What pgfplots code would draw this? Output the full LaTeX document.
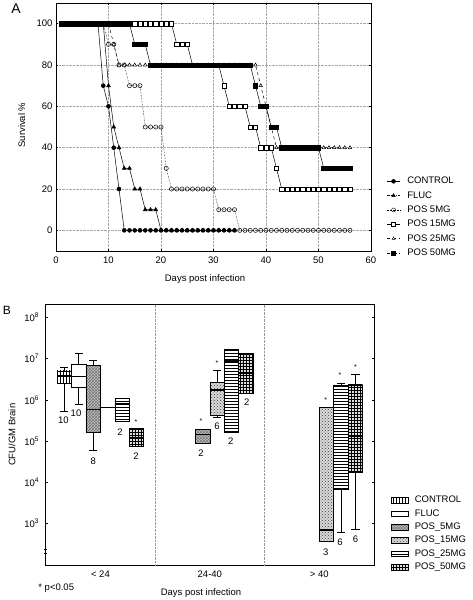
\documentclass[border=0pt]{standalone}
\usepackage{fontspec}
\setmainfont{Liberation Sans}
\usepackage{pgfplots}
\pgfplotsset{compat=1.18}
\usepgfplotslibrary{statistics}
\usetikzlibrary{patterns}

\tikzset{
  pCTRL/.style={fill=white, postaction={pattern=vertical lines}},
  pFLUC/.style={fill=white},
  pP5/.style={fill=gray!45, postaction={pattern=crosshatch, pattern color=black!55}},
  pP15/.style={fill=gray!30, postaction={pattern=crosshatch dots, pattern color=black!75}},
  pP25/.style={fill=white, postaction={pattern=horizontal lines}},
  pP50/.style={fill=gray!25, postaction={pattern=grid}},
}

\begin{document}
\begin{tikzpicture}[font=\fontsize{9.5}{11}\selectfont]
\path[use as bounding box] (0,0) rectangle (473pt,-600pt);
\node[font=\fontsize{14}{16}\selectfont] at (16pt,-8.5pt) {A};
\node[font=\fontsize{12}{14}\selectfont] at (7pt,-310pt) {B};

% ---------------- Panel A ----------------
\begin{axis}[
  at={(56pt,-251pt)}, anchor=south west,
  scale only axis, width=315pt, height=248pt,
  xmin=0, xmax=60, ymin=-10, ymax=110,
  xtick={0,10,...,60}, ytick={0,20,...,100},
  grid=major, grid style={densely dotted, gray!70, line width=0.4pt},
  axis line style={line width=0.8pt},
  tick style={black, line width=0.4pt}, major tick length=2pt,
  /pgf/number format/assume math mode=true,
  tick label style={font=\fontsize{9.5}{11}\selectfont},
  xticklabel style={yshift=-2pt},
  xlabel={Days post infection}, ylabel={Survival \%},
  xlabel style={at={(axis description cs:0.473,-0.112)}, anchor=center},
  ylabel style={at={(axis description cs:-0.109,0.508)}, anchor=center},
  legend style={at={(1.04,0.31)}, anchor=north west, draw=none, fill=none,
    font=\fontsize{9.5}{11}\selectfont, row sep=4.3pt,
    nodes={inner sep=1pt, text height=6.5pt, text depth=1.5pt},
    /tikz/every odd column/.append style={column sep=6pt}},
  legend cell align=left,
  legend image code/.code={\draw[mark repeat=2,mark phase=2] plot coordinates {(0cm,0cm) (0.23cm,0cm) (0.46cm,0cm)};},
]
% POS 5MG
\addplot[forget plot, black, densely dotted, line width=0.5pt, mark=o, mark size=2.1pt, mark options={solid, fill=white}] coordinates {
(1,100)(2,100)(3,100)(4,100)(5,100)(6,100)(7,100)(8,100)(9,100)(10,90)(11,90)(12,80)(13,80)(14,70)(15,70)(16,70)(17,50)(18,50)(19,50)(20,50)(21,30)
(22,20)(23,20)(24,20)(25,20)(26,20)(27,20)(28,20)(29,20)(30,20)(31,10)(32,10)(33,10)(34,10)
(35,0)(36,0)(37,0)(38,0)(39,0)(40,0)(41,0)(42,0)(43,0)(44,0)(45,0)(46,0)(47,0)(48,0)(49,0)(50,0)(51,0)(52,0)(53,0)(54,0)(55,0)(56,0)};
% POS 15MG
\addplot[forget plot, black, solid, line width=0.5pt, mark=square*, mark size=2.2pt, mark options={solid, fill=white}] coordinates {
(1,100)(2,100)(3,100)(4,100)(5,100)(6,100)(7,100)(8,100)(9,100)(10,100)(11,100)(12,100)(13,100)(14,100)(15,100)(16,100)(17,100)(18,100)(19,100)(20,100)(21,100)(22,100)
(23,90)(24,90)(25,90)(26,80)(27,80)(28,80)(29,80)(30,80)(31,80)(32,70)(33,60)(34,60)(35,60)(36,60)(37,50)(38,50)(39,40)(40,40)(41,40)(42,30)
(43,20)(44,20)(45,20)(46,20)(47,20)(48,20)(49,20)(50,20)(51,20)(52,20)(53,20)(54,20)(55,20)(56,20)};
% POS 25MG
\addplot[forget plot, black, dashed, line width=0.5pt, mark=triangle*, mark size=2pt, mark options={solid, fill=white}] coordinates {
(1,100)(2,100)(3,100)(4,100)(5,100)(6,100)(7,100)(8,100)(9,100)(10,100)(11,90)
(12,80)(13,80)(14,80)(15,80)(16,80)(17,80)(18,80)(19,80)(20,80)(21,80)(22,80)(23,80)(24,80)(25,80)(26,80)(27,80)(28,80)(29,80)(30,80)(31,80)(32,80)(33,80)(34,80)(35,80)(36,80)(37,80)(38,80)
(39,70)(40,60)(41,50)(42,40)(43,40)(44,40)(45,40)(46,40)(47,40)(48,40)(49,40)(50,40)(51,40)(52,40)(53,40)(54,40)(55,40)(56,40)};
% FLUC
\addplot[forget plot, black, solid, line width=0.5pt, mark=triangle*, mark size=2.2pt, mark options={solid}] coordinates {
(1,100)(2,100)(3,100)(4,100)(5,100)(6,100)(7,100)(8,100)(9,100)(10,70)(11,50)(12,40)(13,30)(14,30)(15,20)(16,20)(17,10)(18,10)(19,10)
(20,0)(21,0)(22,0)(23,0)(24,0)(25,0)(26,0)(27,0)(28,0)(29,0)(30,0)(31,0)(32,0)(33,0)(34,0)};
% CONTROL
\addplot[forget plot, black, solid, line width=0.5pt, mark=*, mark size=2pt] coordinates {
(1,100)(2,100)(3,100)(4,100)(5,100)(6,100)(7,100)(8,100)(9,70)(10,60)(11,40)(12,20)
(13,0)(14,0)(15,0)(16,0)(17,0)(18,0)(19,0)(20,0)(21,0)(22,0)(23,0)(24,0)(25,0)(26,0)(27,0)(28,0)(29,0)(30,0)(31,0)(32,0)(33,0)(34,0)};
% POS 50MG
\addplot[forget plot, black, solid, line width=0.5pt, mark=square*, mark size=2.2pt, mark options={solid}] coordinates {
(1,100)(2,100)(3,100)(4,100)(5,100)(6,100)(7,100)(8,100)(9,100)(10,100)(11,100)(12,100)(13,100)(14,100)(15,90)(16,90)(17,90)
(18,80)(19,80)(20,80)(21,80)(22,80)(23,80)(24,80)(25,80)(26,80)(27,80)(28,80)(29,80)(30,80)(31,80)(32,80)(33,80)(34,80)(35,80)(36,80)(37,80)
(38,70)(39,60)(40,60)(41,50)(42,50)(43,40)(44,40)(45,40)(46,40)(47,40)(48,40)(49,40)(50,40)(51,30)(52,30)(53,30)(54,30)(55,30)(56,30)};

\addlegendimage{black, solid, mark=*, mark size=2pt}
\addlegendentry{CONTROL}
\addlegendimage{black, densely dashdotted, mark=triangle*, mark size=2pt, mark options={solid}}
\addlegendentry{FLUC}
\addlegendimage{black, densely dotted, mark=o, mark size=2pt, mark options={solid, fill=white}}
\addlegendentry{POS 5MG}
\addlegendimage{black, solid, mark=square*, mark size=2pt, mark options={solid, fill=white}}
\addlegendentry{POS 15MG}
\addlegendimage{black, dashed, mark=triangle*, mark size=1.7pt, mark options={solid, fill=white}}
\addlegendentry{POS 25MG}
\addlegendimage{black, dashdotted, mark=square*, mark size=2pt, mark options={solid}}
\addlegendentry{POS 50MG}
\end{axis}

% ---------------- Panel B ----------------
\begin{axis}[
  at={(45.7pt,-565.3pt)}, anchor=south west,
  scale only axis, width=328.3pt, height=261pt,
  xmin=0, xmax=3, ymin=1.98, ymax=8.32,
  xtick={0.5,1.5,2.5}, xticklabels={< 24, 24-40, > 40},
  xtick style={draw=none},
  extra x ticks={1,2}, extra x tick labels={},
  extra x tick style={grid=major, major tick length=0pt},
  grid style={densely dotted, gray!80, line width=0.5pt},
  ytick={3,4,5,6,7,8},
  yticklabels={10\textsuperscript{3},10\textsuperscript{4},10\textsuperscript{5},10\textsuperscript{6},10\textsuperscript{7},10\textsuperscript{8}},
  yticklabel style={xshift=-3pt},
  xticklabel style={yshift=-2pt},
  axis line style={line width=0.8pt},
  tick style={black, line width=0.4pt}, major tick length=2pt,
  tick label style={font=\fontsize{9.5}{11}\selectfont},
  ylabel={CFU/GM Brain},
  ylabel style={at={(axis description cs:-0.103,0.5)}, anchor=center},
  clip=false,
  boxplot/draw direction=y,
  boxplot/box extend=0.132,
  boxplot/whisker extend=0.075,
  boxplot/every median/.style={line width=1.3pt},
  legend style={at={(1.043,0.276)}, anchor=north west, draw=none, fill=none,
    font=\fontsize{9.5}{11}\selectfont, row sep=3.3pt,
    nodes={inner sep=1pt, text height=6.5pt, text depth=1.5pt},
    /tikz/every odd column/.append style={column sep=5pt}},
  legend cell align=left,
]
% group < 24
\addplot[forget plot, black, line width=0.6pt, boxplot prepared={draw position=0.17, lower whisker=5.73, lower quartile=6.40, median=6.58, upper quartile=6.70, upper whisker=6.79}, boxplot/every box/.style={pCTRL}] coordinates {};
\addplot[forget plot, black, line width=0.6pt, boxplot prepared={draw position=0.302, lower whisker=5.89, lower quartile=6.30, median=6.56, upper quartile=6.86, upper whisker=7.14}, boxplot/every box/.style={pFLUC}] coordinates {};
\addplot[forget plot, black, line width=0.6pt, boxplot prepared={draw position=0.434, lower whisker=4.78, lower quartile=5.21, median=5.76, upper quartile=6.84, upper whisker=6.96}, boxplot/every box/.style={pP5}] coordinates {};
\addplot[forget plot, black, line width=0.6pt, boxplot prepared={draw position=0.566, lower whisker=5.82, lower quartile=5.82, median=5.82, upper quartile=5.82, upper whisker=5.82}, boxplot/every box/.style={pP15}] coordinates {};
\addplot[forget plot, black, line width=0.6pt, boxplot prepared={draw position=0.698, lower whisker=5.47, lower quartile=5.47, median=5.91, upper quartile=6.03, upper whisker=6.03}, boxplot/every box/.style={pP25}] coordinates {};
\addplot[forget plot, black, line width=0.6pt, boxplot prepared={draw position=0.83, lower whisker=4.86, lower quartile=4.86, median=5.08, upper quartile=5.31, upper whisker=5.31}, boxplot/every box/.style={pP50}] coordinates {};
% group 24-40
\addplot[forget plot, black, line width=0.6pt, boxplot prepared={draw position=1.434, lower whisker=4.94, lower quartile=4.94, median=5.16, upper quartile=5.28, upper whisker=5.28}, boxplot/every box/.style={pP5}] coordinates {};
\addplot[forget plot, black, line width=0.6pt, boxplot prepared={draw position=1.566, lower whisker=5.57, lower quartile=5.63, median=6.24, upper quartile=6.42, upper whisker=6.72}, boxplot/every box/.style={pP15}] coordinates {};
\addplot[forget plot, black, line width=0.6pt, boxplot prepared={draw position=1.698, lower whisker=5.22, lower quartile=5.22, median=6.94, upper quartile=7.23, upper whisker=7.23}, boxplot/every box/.style={pP25}] coordinates {};
\addplot[forget plot, black, line width=0.6pt, boxplot prepared={draw position=1.83, lower whisker=6.16, lower quartile=6.16, median=6.65, upper quartile=7.13, upper whisker=7.13}, boxplot/every box/.style={pP50}] coordinates {};
% group > 40
\addplot[forget plot, black, line width=0.6pt, boxplot prepared={draw position=2.566, lower whisker=2.57, lower quartile=2.57, median=2.84, upper quartile=5.81, upper whisker=5.81}, boxplot/every box/.style={pP15}] coordinates {};
\addplot[forget plot, black, line width=0.6pt, boxplot prepared={draw position=2.698, lower whisker=2.78, lower quartile=3.83, median=6.03, upper quartile=6.36, upper whisker=6.41}, boxplot/every box/.style={pP25}] coordinates {};
\addplot[forget plot, black, line width=0.6pt, boxplot prepared={draw position=2.83, lower whisker=2.86, lower quartile=4.25, median=5.12, upper quartile=6.36, upper whisker=6.62}, boxplot/every box/.style={pP50}] coordinates {};

\addlegendimage{area legend, draw=black, pCTRL}
\addlegendentry{CONTROL}
\addlegendimage{area legend, draw=black, pFLUC}
\addlegendentry{FLUC}
\addlegendimage{area legend, draw=black, pP5}
\addlegendentry{POS\_5MG}
\addlegendimage{area legend, draw=black, pP15}
\addlegendentry{POS\_15MG}
\addlegendimage{area legend, draw=black, pP25}
\addlegendentry{POS\_25MG}
\addlegendimage{area legend, draw=black, pP50}
\addlegendentry{POS\_50MG}

% n labels
\node at (axis cs:0.161,5.51) {10};
\node at (axis cs:0.277,5.67) {10};
\node at (axis cs:0.435,4.52) {8};
\node at (axis cs:0.679,5.22) {2};
\node at (axis cs:0.825,4.62) {2};
\node at (axis cs:1.42,4.70) {2};
\node at (axis cs:1.566,5.37) {6};
\node at (axis cs:1.69,5.00) {2};
\node at (axis cs:1.837,5.94) {2};
\node at (axis cs:2.56,2.30) {3};
\node at (axis cs:2.69,2.53) {6};
\node at (axis cs:2.83,2.61) {6};
% significance marks
\node[font=\fontsize{7}{8}\selectfont] at (axis cs:0.825,5.46) {*};
\node[font=\fontsize{7}{8}\selectfont] at (axis cs:1.42,5.48) {*};
\node[font=\fontsize{7}{8}\selectfont] at (axis cs:1.566,6.88) {*};
\node[font=\fontsize{7}{8}\selectfont] at (axis cs:2.56,6.00) {*};
\node[font=\fontsize{7}{8}\selectfont] at (axis cs:2.69,6.59) {*};
\node[font=\fontsize{7}{8}\selectfont] at (axis cs:2.83,6.79) {*};
% axis break
\draw[black, line width=0.5pt] (axis cs:-0.013,2.38) -- (axis cs:0.013,2.38);
\draw[black, line width=0.5pt] (axis cs:-0.013,2.28) -- (axis cs:0.013,2.28);
% footnote and x label
\node[anchor=west] at (axis description cs:-0.033,-0.087) {* p<0.05};
\node at (axis description cs:0.473,-0.106) {Days post infection};
\end{axis}
\end{tikzpicture}
\end{document}
